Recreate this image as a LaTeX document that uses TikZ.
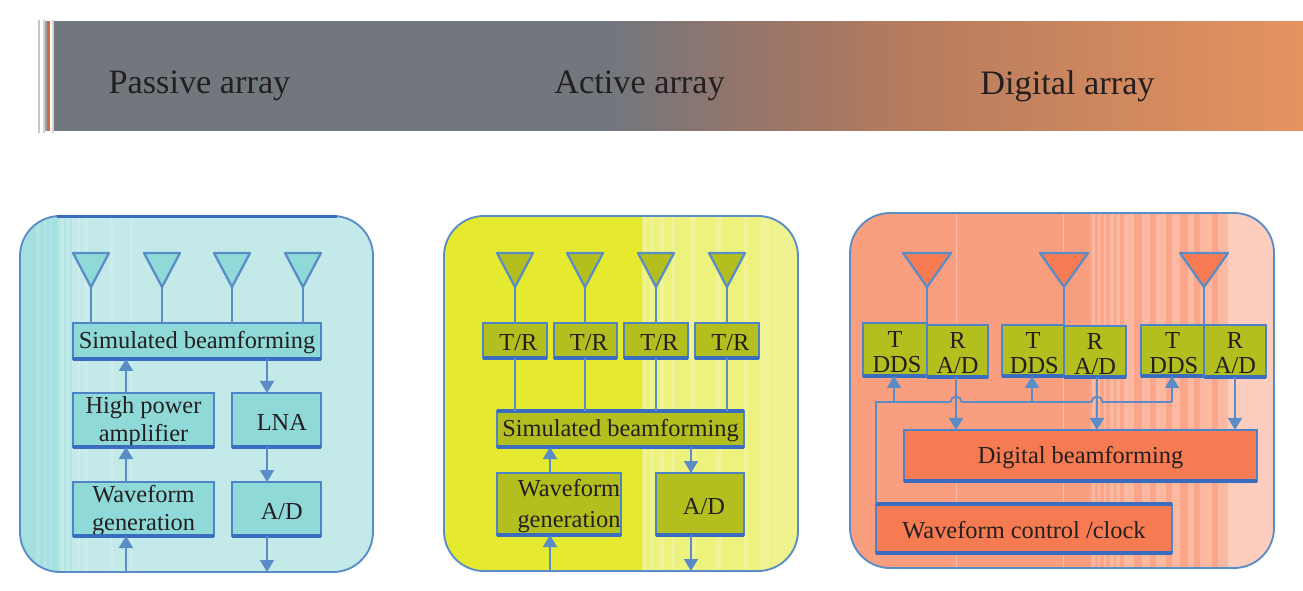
\documentclass[tikz,border=0pt]{standalone}
\usepackage{fontspec}
\setmainfont{Liberation Serif}
\usetikzlibrary{arrows.meta}
\definecolor{edge}{HTML}{5A8CC8}
\definecolor{boxedge}{HTML}{4F83C8}
\definecolor{edgedark}{HTML}{3A6CC0}
\definecolor{cyanbox}{HTML}{8FD9D8}
\definecolor{cyanbg}{HTML}{C3E9E9}
\definecolor{cyanst}{HTML}{A4E0E0}
\definecolor{olivebox}{HTML}{B2BF1E}
\definecolor{yelbg}{HTML}{E6EA2E}
\definecolor{yelst}{HTML}{EDF27C}
\definecolor{orbox}{HTML}{F67B52}
\definecolor{orbg}{HTML}{FA9E80}
\definecolor{orst}{HTML}{FCB9A2}
\definecolor{bangray}{HTML}{72777E}
\definecolor{banA}{HTML}{96756A}
\definecolor{banB}{HTML}{B47B5E}
\definecolor{banC}{HTML}{E6935F}
\definecolor{banstripe}{HTML}{D2693E}
\definecolor{ink}{HTML}{231F20}
\tikzset{
  x=0.75pt,y=-0.75pt,
  box/.style={draw=boxedge,line width=1.8pt,inner sep=0pt,outer sep=0pt,anchor=north west,text=ink,align=center,
    font=\fontsize{18.3}{20}\selectfont},
  panel/.style={draw=edge,line width=1.4pt},
  wire/.style={draw=edge,line width=1.4pt},
  arr/.style={wire,-{Triangle[length=9pt,width=10.5pt]}},
  heavy/.style={draw=edgedark,line width=2.3pt},
  title/.style={text=ink,font=\fontsize{25.7}{27}\selectfont,inner sep=0pt},
}
% name x1 y1 x2 y2 fill text
\newcommand{\bx}[7]{\node[box,fill=#6,minimum width={(#4-#2)*0.75pt},minimum height={(#5-#3)*0.75pt}] (#1) at (#2,#3) {\rule{0pt}{15.5pt}#7};
  \draw[heavy] (#1.south west) -- (#1.south east);}
% name x halfwidth fill
\newcommand{\ant}[4]{\draw[wire,line width=1.7pt,line join=round,fill=#4] (#2-#3,253) -- (#2+#3,253) -- (#2,287) -- cycle;
  \coordinate (#1) at (#2,287);}
\begin{document}
\begin{tikzpicture}
\useasboundingbox (0,0) rectangle (1303,591);
% banner
\begin{scope}
\clip (38,22) rectangle (1303,131);
\fill[bangray] (54,20) rectangle (610,133);
\shade[left color=bangray,right color=banA] (610,20) rectangle (750,133);
\shade[left color=banA,right color=banB] (749.5,20) rectangle (900,133);
\shade[left color=banB,right color=banC] (899.5,20) rectangle (1303,133);
\fill[bangray!70] (45,20) rectangle (47,133);
\fill[banstripe] (47,20) rectangle (50,133);
\end{scope}
\fill[gray!45] (38,20) rectangle (40,133);
\fill[gray!35] (43,20) rectangle (45,133);
\fill[gray!35] (52,20) rectangle (54,133);
\node[title] (t1) at (199.5,86) {Passive array};
\node[title] (t2) at (639.5,86) {Active array};
\node[title] (t3) at (1067.5,86) {Digital array};
% panel 1
\begin{scope}
\clip[rounded corners=30pt] (20,216) rectangle (373,572);
\fill[cyanbg] (20,216) rectangle (373,572);
\fill[cyanst] (20,216) rectangle (57,572);
\foreach \a/\b in {36/40,44/47,50/52,57/60,64/66,70/72}{\fill[cyanbox!70] (\a,216) rectangle (\b,572);}
\foreach \a/\b in {78/80,84/88,110/113,130/132}{\fill[white,opacity=.18] (\a,216) rectangle (\b,572);}
\end{scope}
\draw[panel,rounded corners=30pt] (20,216) rectangle (373,572);
\draw[heavy] (57,216.5) -- (337,216.5);
\ant{A1}{91}{18}{cyanbox}\ant{A2}{162}{18}{cyanbox}\ant{A3}{232}{18}{cyanbox}\ant{A4}{303}{18}{cyanbox}
\bx{sim1}{73}{323}{321}{359}{cyanbox}{Simulated beamforming}
\bx{hpa}{73}{393}{214}{447}{cyanbox}{High power\\[1pt]amplifier}
\bx{lna}{232}{393}{321}{447}{cyanbox}{\hspace*{8pt}LNA}
\bx{wf1}{73}{482}{214}{536}{cyanbox}{Waveform\\[1pt]generation}
\bx{ad1}{232}{482}{321}{536}{cyanbox}{\hspace*{8pt}A/D}
\foreach \n in {A1,A2,A3,A4}{\draw[wire] (\n) -- (\n |- sim1.north);}
\coordinate (u1) at (126,572);\coordinate (d1) at (267,572);
\draw[arr] (hpa.north -| u1) -- (sim1.south -| u1);
\draw[arr] (wf1.north -| u1) -- (hpa.south -| u1);
\draw[arr] (u1) -- (wf1.south -| u1);
\draw[arr] (sim1.south -| d1) -- (lna.north -| d1);
\draw[arr] (lna.south -| d1) -- (ad1.north -| d1);
\draw[arr] (ad1.south -| d1) -- (d1);
% panel 2
\begin{scope}
\clip[rounded corners=30pt] (444,216) rectangle (798,571);
\fill[yelbg] (444,216) rectangle (798,571);
\fill[yelst] (642,216) rectangle (798,571);
\foreach \a/\b in {644/646,650/653,660/664,672/675,690/696,716/722,744/748,760/770}{\fill[white,opacity=.2] (\a,216) rectangle (\b,571);}
\fill[white,opacity=.15] (772,216) rectangle (798,571);
\end{scope}
\draw[panel,rounded corners=30pt] (444,216) rectangle (798,571);
\ant{B1}{515}{18}{olivebox}\ant{B2}{585}{18}{olivebox}\ant{B3}{656}{18}{olivebox}\ant{B4}{727}{18}{olivebox}
\bx{tr1}{483}{323}{547}{358}{olivebox}{\hspace*{5pt}T/R}
\bx{tr2}{554}{323}{617}{358}{olivebox}{\hspace*{5pt}T/R}
\bx{tr3}{624}{323}{688}{358}{olivebox}{\hspace*{5pt}T/R}
\bx{tr4}{695}{323}{759}{358}{olivebox}{\hspace*{5pt}T/R}
\bx{sim2}{497}{411}{744}{447}{olivebox}{Simulated beamforming}
\draw[heavy] (sim2.north west) -- (sim2.north east);
\bx{wf2}{497}{473}{621}{535}{olivebox}{\hspace*{15pt}Waveform\\[3pt]\hspace*{15pt}generation}
\bx{ad2}{656}{473}{744}{535}{olivebox}{\hspace*{6pt}A/D}
\foreach \n/\b in {B1/tr1,B2/tr2,B3/tr3,B4/tr4}{
  \draw[wire] (\n) -- (\n |- \b.north);
  \draw[wire] (\n |- \b.south) -- (\n |- sim2.north);}
\coordinate (u2) at (550,571);\coordinate (d2) at (691,571);
\draw[arr] (wf2.north -| u2) -- (sim2.south -| u2);
\draw[arr] (u2) -- (wf2.south -| u2);
\draw[arr] (sim2.south -| d2) -- (ad2.north -| d2);
\draw[arr] (ad2.south -| d2) -- (d2);
% panel 3
\begin{scope}
\clip[rounded corners=30pt] (850,213) rectangle (1274,568);
\fill[orbg] (850,213) rectangle (1274,568);
\fill[orbg!70!orst] (1090,213) rectangle (1274,568);
\foreach \a/\b in {1092/1095,1098/1100,1104/1106,1110/1114,1116/1120,1124/1134,1142/1150,1156/1166,1172/1180,1188/1194,1200/1212,1218/1228}{\fill[orst] (\a,213) rectangle (\b,568);}
\fill[orst!70!white] (1228,213) rectangle (1274,568);
\fill[white,opacity=.3] (955.5,213) rectangle (956.5,568);
\fill[white,opacity=.3] (1062.5,213) rectangle (1063.5,568);
\end{scope}
\draw[panel,rounded corners=30pt] (850,213) rectangle (1274,568);
\ant{C1}{927}{24}{orbox}\ant{C2}{1064}{24}{orbox}\ant{C3}{1204}{24}{orbox}
\bx{t1b}{863}{323}{927}{376}{olivebox}{T\\[-1pt]\hspace*{3pt}DDS}
\bx{r1b}{927}{325}{988}{377}{olivebox}{R\\[-1pt]A/D}
\bx{t2b}{1002}{325}{1064}{376}{olivebox}{T\\[-1pt]\hspace*{2pt}DDS}
\bx{r2b}{1064}{326}{1126}{377}{olivebox}{R\\[-1pt]A/D}
\bx{t3b}{1141}{325}{1204}{376}{olivebox}{T\\[-1pt]\hspace*{2pt}DDS}
\bx{r3b}{1204}{325}{1266}{377}{olivebox}{R\\[-1pt]A/D}
\bx{dbf}{904}{430}{1257}{481}{orbox}{Digital beamforming}
\bx{wfc}{876}{504}{1172}{553}{orbox}{Waveform control /clock}
\draw[heavy] (wfc.north west) -- (wfc.north east);
\foreach \n/\b in {C1/t1b,C2/t2b,C3/t3b}{\draw[wire] (\n) -- (\n |- \b.north);}
\coordinate (k0) at (876,402);\coordinate (k1) at (894,402);\coordinate (k2) at (1032,402);\coordinate (k3) at (1172,402);
\coordinate (j1) at (950.5,402);\coordinate (j2) at (1091.5,402);
\coordinate (r1) at (956,0);\coordinate (r2) at (1097,0);\coordinate (r3) at (1235,0);
\draw[wire] (wfc.north west) -- (k0) -- (k1) -- (j1) arc (180:360:5.5) -- (j2) arc (180:360:5.5) -- (k3);
\draw[arr] (k1) -- (t1b.south -| k1);
\draw[arr] (k2) -- (t2b.south -| k2);
\draw[arr] (k3) -- (t3b.south -| k3);
\draw[arr] (r1b.south -| r1) -- (dbf.north -| r1);
\draw[arr] (r2b.south -| r2) -- (dbf.north -| r2);
\draw[arr] (r3b.south -| r3) -- (dbf.north -| r3);
\end{tikzpicture}
\end{document}
